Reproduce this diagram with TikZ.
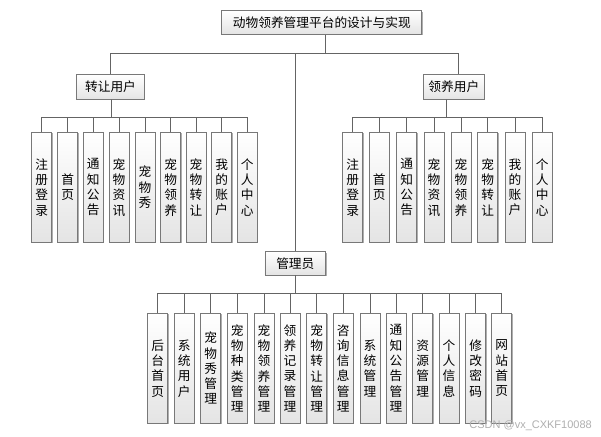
\documentclass[tikz,border=0pt]{standalone}
\usepackage{fontspec}
\setmainfont{Noto Sans CJK SC}
\newfontfamily\wmfont{Liberation Sans}
\usetikzlibrary{shadows}
\definecolor{boxc}{RGB}{120,120,120}
\definecolor{fillc}{RGB}{228,228,228}
\definecolor{linec}{RGB}{100,100,100}
\definecolor{wmc}{RGB}{175,175,175}
\begin{document}
\begin{tikzpicture}[x=1pt,y=-1pt,
  box/.style={draw=boxc, line width=0.9pt, top color=white, bottom color=fillc,
    inner sep=0pt, align=center, font=\fontsize{12.7}{15.3}\selectfont,
    drop shadow={shadow xshift=0.9pt, shadow yshift=-0.9pt, fill=black!45, opacity=0.7}},
  leaf/.style={box, minimum width=20pt, minimum height=110pt},
  conn/.style={draw=linec, line width=0.9pt}]
\useasboundingbox (0,0) rectangle (601,436);
\fill[white] (0,0) rectangle (601,436);

% top level
\node[box, minimum width=200pt, minimum height=23.6pt] (root) at (321.8,22.5) {动物领养管理平台的设计与实现};
\node[box, minimum width=67.6pt, minimum height=25pt] (u1) at (110.5,86.8) {转让用户};
\node[box, minimum width=61pt, minimum height=25pt] (u2) at (453.8,86.8) {领养用户};
\node[box, minimum width=60.7pt, minimum height=23.3pt] (adm) at (295.3,263.3) {管理员};

% left group leaves
\foreach \x/\t [count=\i] in {41.7/{注\\册\\登\\录}, 67.7/{首\\页}, 93.3/{通\\知\\公\\告}, 119/{宠\\物\\资\\讯}, 145/{宠\\物\\秀}, 170.7/{宠\\物\\领\\养}, 196/{宠\\物\\转\\让}, 221.7/{我\\的\\账\\户}, 247.3/{个\\人\\中\\心}}
  \node[leaf] (l\i) at (\x,187.3) {\t};

% right group leaves
\foreach \x/\t [count=\i] in {352.7/{注\\册\\登\\录}, 379.3/{首\\页}, 406.7/{通\\知\\公\\告}, 434/{宠\\物\\资\\讯}, 461/{宠\\物\\领\\养}, 487.7/{宠\\物\\转\\让}, 515/{我\\的\\账\\户}, 542.3/{个\\人\\中\\心}}
  \node[leaf] (r\i) at (\x,187.3) {\t};

% admin leaves
\foreach \x/\t [count=\i] in {157.7/{后\\台\\首\\页}, 184.3/{系\\统\\用\\户}, 210.7/{宠\\物\\秀\\管\\理}, 237.3/{宠\\物\\种\\类\\管\\理}, 264/{宠\\物\\领\\养\\管\\理}, 290/{领\\养\\记\\录\\管\\理}, 316.7/{宠\\物\\转\\让\\管\\理}, 343.3/{咨\\询\\信\\息\\管\\理}, 370/{系\\统\\管\\理}, 396/{通\\知\\公\\告\\管\\理}, 422.7/{资\\源\\管\\理}, 449/{个\\人\\信\\息}, 475.7/{修\\改\\密\\码}, 501.7/{网\\站\\首\\页}}
  \node[leaf] (m\i) at (\x,368.3) {\t};

% connectors top level
\draw[conn] ([xshift=4pt]root.south) -- ++(0,19) coordinate (tb);
\draw[conn] (u1.north) |- (tb) -| ([xshift=4.5pt]u2.north);
\draw[conn] (adm.north) -- (adm.north |- tb);

% group connectors
\foreach \i in {1,...,9}
  \draw[conn] ([xshift=1pt]u1.south) -- ++(0,18) -| (l\i.north);
\foreach \i in {1,...,8}
  \draw[conn] ([xshift=-7pt]u2.south) -- ++(0,18) -| (r\i.north);
\foreach \i in {1,...,14}
  \draw[conn] (adm.south) -- ++(0,18.3) -| (m\i.north);

% watermark
\node[anchor=east, text=wmc, inner sep=0pt, font=\wmfont\fontsize{11}{12}\selectfont] (wm) at (592,425.5) {CSDN @vx\_CXKF10088};
\end{tikzpicture}
\end{document}
